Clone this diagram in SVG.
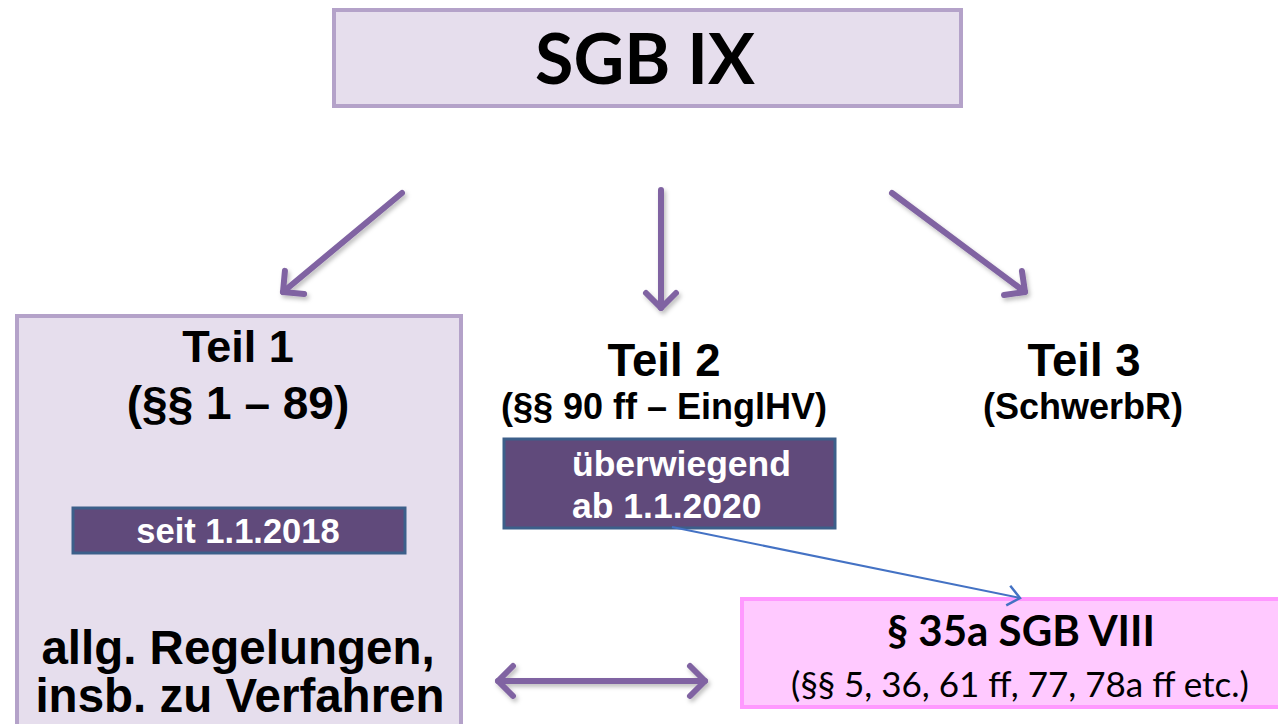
<svg xmlns="http://www.w3.org/2000/svg" width="1278" height="724" viewBox="0 0 1278 724">
<style>
.lav{fill:#e6deed;stroke:#b4a2c9;stroke-width:4}
.dark{fill:#604a7b;stroke:#3c5f8a;stroke-width:3}
.pink{fill:#ffc9ff;stroke:#ff99ff;stroke-width:4}
.ar{font-family:"Liberation Sans",Arial,sans-serif;font-weight:bold;fill:#000}
.cal{font-family:Lato,"Open Sans",sans-serif;fill:#000}
.w{fill:#fff}
.pa{stroke:#8064a2;stroke-width:6;fill:none;stroke-linecap:round;filter:url(#sh)}
.ba{stroke:#4472c4;stroke-width:2;fill:none}
</style>
<defs>
<filter id="sh" filterUnits="userSpaceOnUse" x="0" y="0" width="1278" height="724">
<feDropShadow dx="2" dy="3" stdDeviation="2" flood-color="#000" flood-opacity="0.25"/>
</filter>
<marker id="ph" markerUnits="userSpaceOnUse" viewBox="-20 -20 40 40" refX="0" refY="0" markerWidth="40" markerHeight="40" orient="auto-start-reverse">
<path d="M -15 -15 L 0 0 L -15 15" fill="none" stroke="#8064a2" stroke-width="6" stroke-linecap="round" stroke-linejoin="round"/>
</marker>
<marker id="bh" markerUnits="userSpaceOnUse" viewBox="-20 -20 40 40" refX="0" refY="0" markerWidth="40" markerHeight="40" orient="auto">
<path d="M -12 -10 L 0 0 L -12 10" fill="none" stroke="#4472c4" stroke-width="2.5"/>
</marker>
</defs>
<rect width="1278" height="724" fill="#fff"/>
<g id="sgb9">
<rect class="lav" x="334" y="10" width="627" height="96"/>
<text class="cal" x="645" y="84" font-size="70" font-weight="bold" text-anchor="middle">SGB IX</text>
</g>
<g id="teil1">
<rect class="lav" x="17" y="316" width="444" height="420"/>
<text class="ar" x="238" y="362" font-size="45" text-anchor="middle">Teil 1</text>
<text class="ar" x="238" y="419" font-size="46" text-anchor="middle">(§§ 1 – 89)</text>
<rect class="dark" x="73" y="508" width="332" height="45"/>
<text class="ar w" x="238" y="543" font-size="34.5" text-anchor="middle">seit 1.1.2018</text>
<text class="ar" x="238" y="664" font-size="47.5" text-anchor="middle">allg. Regelungen,</text>
<text class="ar" x="240" y="712" font-size="47.5" text-anchor="middle">insb. zu Verfahren</text>
</g>
<g id="teil2">
<text class="ar" x="664" y="376" font-size="45.5" text-anchor="middle">Teil 2</text>
<text class="ar" x="664" y="419" font-size="36" text-anchor="middle">(§§ 90 ff – EinglHV)</text>
<rect class="dark" x="504" y="439" width="331" height="89"/>
<text class="ar w" x="572" y="476" font-size="35.5">überwiegend</text>
<text class="ar w" x="572" y="518" font-size="35.5">ab 1.1.2020</text>
</g>
<g id="teil3">
<text class="ar" x="1084" y="376" font-size="45.5" text-anchor="middle">Teil 3</text>
<text class="ar" x="1083" y="419" font-size="36" text-anchor="middle">(SchwerbR)</text>
</g>
<g id="sgb8">
<rect class="pink" x="742" y="599" width="560" height="108"/>
<text class="cal" x="1021" y="646" font-size="42" font-weight="bold" text-anchor="middle">§ 35a SGB VIII</text>
<text class="cal" x="1020" y="697" font-size="35" text-anchor="middle">(§§ 5, 36, 61 ff, 77, 78a ff etc.)</text>
</g>
<g id="connectors">
<line class="pa" x1="402" y1="193" x2="283" y2="292" marker-end="url(#ph)"/>
<line class="pa" x1="661" y1="190" x2="661" y2="308" marker-end="url(#ph)"/>
<line class="pa" x1="892" y1="193" x2="1025" y2="292" marker-end="url(#ph)"/>
<line class="pa" x1="498" y1="681" x2="705" y2="681" marker-start="url(#ph)" marker-end="url(#ph)"/>
<line class="ba" x1="672" y1="527" x2="1020" y2="598" marker-end="url(#bh)"/>
</g>
</svg>
